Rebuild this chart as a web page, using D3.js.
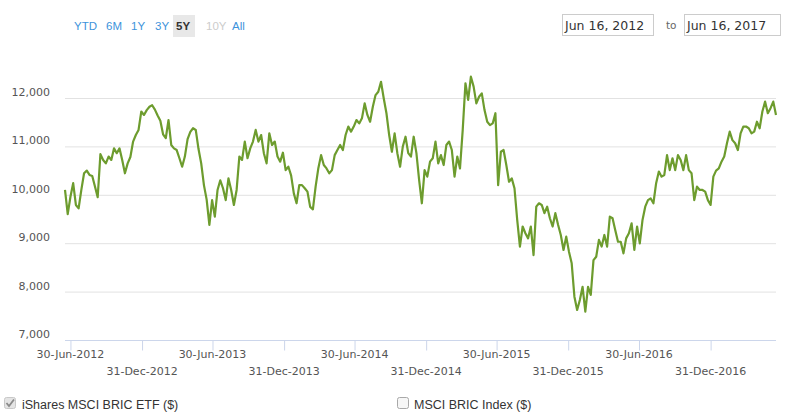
<!DOCTYPE html>
<html><head><meta charset="utf-8">
<script src="https://cdn.jsdelivr.net/npm/d3@7"></script>
<style>html,body{margin:0;padding:0;background:#fff;}svg{display:block;}</style>
</head><body>
<svg id="c" width="800" height="420"></svg>
<script>
// ---- data ----
const seriesName = "iShares MSCI BRIC ETF ($)";
const otherSeriesName = "MSCI BRIC Index ($)";
const firstDate = "2012-06-16";   // weekly observations from this date
const stepDays = 7;
const values = [
 10100, 9600, 9960,10240, 9790, 9720,10100,10445,10500,10410,
 10390,10170, 9950,10840,10720,10650,10790,10720,10960,10860,
 10960,10720,10445,10650,10780,11100,11235,11340,11720,11650,
 11750,11820,11850,11760,11640,11530,11250,11170,11545,11030,
 10960,10925,10755,10580,10790,11150,11300,11375,11340,10950,
 10650,10200, 9900, 9380, 9890, 9550,10100,10300,10135, 9890,
 10340,10100, 9790,10100,10790,10720,11100,10755,10960,11100,
 11340,11100,11235,10860,10650,11270,11030,11100,10790,10685,
 10870,10510,10580,10400,10030, 9825,10200,10200,10135,10065,
  9750, 9700,10170,10550,10820,10615,10545,10445,10510,10820,
 10925,11030,10925,11235,11410,11305,11410,11545,11475,11580,
 11890,11650,11510,11820,12060,12130,12335,11995,11685,11235,
 10890,11270,10860,10580,10995,11200,10860,10790,11200,10860,
 10305, 9825,10510,10375,10685,10755,11100,10650,10820,10615,
 11030,11100,10925,10375,10790,10545,11340,12305,11960,12440,
 12235,11890,12025,12095,11750,11510,11440,11475,11685,10200,
 10890,10925,10615,10270,10340,10135, 9480, 8930, 9345, 9205,
  9100, 9345, 8755, 9755, 9825, 9790, 9620, 9755, 9515, 9345,
  9620, 9380, 9170, 8860, 9135, 8825, 8585, 7895, 7620, 7825,
  8100, 7585, 8100, 7930, 8650, 8720, 9070, 8930, 9170, 8930,
  9550, 9515, 9270, 9030, 9030, 8790, 9100, 9205, 9410, 8860,
  9345, 8995, 9480, 9755, 9890, 9925, 9825,10240,10480,10375,
 10410,10820,10510,10755,10510,10820,10720,10510,10820,10510,
 10445, 9890,10170,10100,10100,10065, 9890, 9790,10375,10500,
 10545,10685,10790,11065,11305,11130,11065,10925,11270,11410,
 11410,11375,11270,11305,11510,11375,11720,11925,11685,11790,
 11925,11650
];
const yTicks = [7000, 8000, 9000, 10000, 11000, 12000];
const xTickDates = ["2012-06-30","2012-12-31","2013-06-30","2013-12-31","2014-06-30",
                    "2014-12-31","2015-06-30","2015-12-31","2016-06-30","2016-12-31"];
const xTickLabels = ["30-Jun-2012","31-Dec-2012","30-Jun-2013","31-Dec-2013","30-Jun-2014",
                     "31-Dec-2014","30-Jun-2015","31-Dec-2015","30-Jun-2016","31-Dec-2016"];
const rangeButtons = ["YTD","6M","1Y","3Y","5Y","10Y","All"];
const selectedButton = "5Y";
const disabledButtons = ["10Y"];
const fromText = "Jun 16, 2012";
const toText = "Jun 16, 2017";

// ---- chart ----
const parse = d3.timeParse("%Y-%m-%d");
const start = parse(firstDate);
const data = values.map((v, i) => ({ date: d3.timeDay.offset(start, i * stepDays), value: v }));

const svg = d3.select("#c");
const pLeft = 65, pRight = 776, pTop = 98, pBottom = 340;

const x = d3.scaleTime()
  .domain([start, data[data.length - 1].date])
  .range([pLeft, pRight]);
const y = d3.scaleLinear().domain([7000, 12000]).range([pBottom, pTop]);

// grid
svg.append("g").selectAll("line").data(yTicks.filter(t => t > 7000)).join("line")
  .attr("x1", pLeft).attr("x2", pRight)
  .attr("y1", d => y(d) + 0.5).attr("y2", d => y(d) + 0.5)
  .attr("stroke", "#e2e2e2").attr("stroke-width", 1);

// y labels
svg.append("g").selectAll("text").data(yTicks).join("text")
  .attr("x", 50).attr("y", d => y(d) - 2)
  .attr("text-anchor", "end")
  .attr("font-family", "DejaVu Sans, Verdana, sans-serif")
  .attr("font-size", 11).attr("fill", "#555")
  .text(d => d3.format(",")(d));

// x axis
const xAxis = d3.axisBottom(x)
  .tickValues(xTickDates.map(parse))
  .tickSize(10)
  .tickFormat("");
const gx = svg.append("g").attr("transform", `translate(0,${pBottom + 0.5})`).call(xAxis);
gx.select(".domain").attr("stroke", "#ccd6eb").attr("d", `M${pLeft},0H${pRight}`);
gx.selectAll(".tick line").attr("stroke", "#ccd6eb");

svg.append("g").selectAll("text").data(xTickDates).join("text")
  .attr("x", d => x(parse(d)))
  .attr("y", (d, i) => i % 2 === 0 ? 358 : 375)
  .attr("text-anchor", "middle")
  .attr("font-family", "DejaVu Sans, Verdana, sans-serif")
  .attr("font-size", 11).attr("fill", "#555")
  .text((d, i) => xTickLabels[i]);

// line
const line = d3.line().x(d => x(d.date)).y(d => y(d.value));
svg.append("path").datum(data)
  .attr("fill", "none").attr("stroke", "#6d9c2e")
  .attr("stroke-width", 2.2).attr("stroke-linejoin", "round")
  .attr("d", line);

// range selector buttons
const btnX = [74, 106, 131, 155, 176, 206, 232];
const btns = svg.append("g");
rangeButtons.forEach((b, i) => {
  if (b === selectedButton) {
    btns.append("rect").attr("x", btnX[i] - 3).attr("y", 15).attr("width", 22).attr("height", 22)
      .attr("fill", "#e8e8e8");
  }
  btns.append("text").attr("x", btnX[i]).attr("y", 30)
    .attr("font-family", "Liberation Sans, Arial, sans-serif").attr("font-size", 11.5)
    .attr("font-weight", b === selectedButton ? "bold" : "normal")
    .attr("fill", b === selectedButton ? "#333" : (disabledButtons.includes(b) ? "#ccc" : "#3d93db"))
    .text(b);
});

// date inputs
function inputBox(x0, w, txt) {
  svg.append("rect").attr("x", x0 + 0.5).attr("y", 14.5).attr("width", w).attr("height", 21)
    .attr("fill", "#fff").attr("stroke", "#ccc");
  svg.append("text").attr("x", x0 + 3).attr("y", 30)
    .attr("font-family", "DejaVu Sans, Verdana, sans-serif").attr("font-size", 12.5).attr("fill", "#333")
    .text(txt);
}
inputBox(562, 91, fromText);
svg.append("text").attr("x", 666).attr("y", 29)
  .attr("font-family", "DejaVu Sans, Verdana, sans-serif").attr("font-size", 10.5).attr("fill", "#666").text("to");
inputBox(684, 96, toText);

// legend
const lg = svg.append("g");
lg.append("rect").attr("x", 4.5).attr("y", 397.5).attr("width", 11).attr("height", 11).attr("rx", 2)
  .attr("fill", "#e4e4e4").attr("stroke", "#c8c8c8");
lg.append("path").attr("d", "M6.5,403 L9,406 L14,399.5").attr("fill", "none")
  .attr("stroke", "#8a8a8a").attr("stroke-width", 1.8);
lg.append("text").attr("x", 22).attr("y", 409)
  .attr("font-family", "Liberation Sans, Arial, sans-serif").attr("font-size", 12.5).attr("fill", "#333")
  .text(seriesName);
lg.append("rect").attr("x", 397.5).attr("y", 397.5).attr("width", 11).attr("height", 11).attr("rx", 2)
  .attr("fill", "#f6f6f6").attr("stroke", "#a8a8a8");
lg.append("text").attr("x", 414).attr("y", 409)
  .attr("font-family", "Liberation Sans, Arial, sans-serif").attr("font-size", 12.5).attr("fill", "#333")
  .text(otherSeriesName);
</script>
</body></html>
